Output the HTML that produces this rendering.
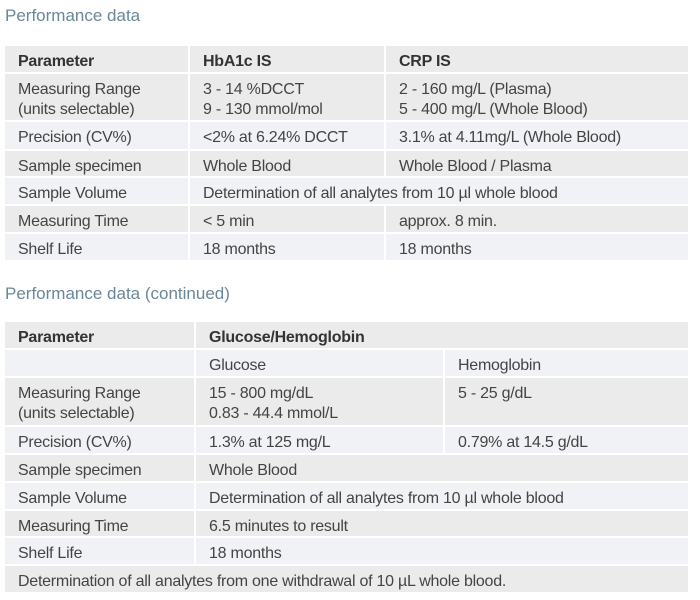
<!DOCTYPE html>
<html><head><meta charset="utf-8"><style>
body{margin:0;width:700px;height:600px;background:#fff;position:relative;overflow:hidden;font-family:"Liberation Sans",sans-serif;color:#444;font-size:16px;}
.t{position:absolute;left:5px;font-size:17px;color:#6a8798;}
.c{position:absolute;box-sizing:border-box;padding:6px 0 0 13px;line-height:20px;border-right:2px solid #fff;border-bottom:2px solid #fff;white-space:nowrap;letter-spacing:-0.25px}
.g{background:#ebebeb}.l{background:#f0f2f5}
b{font-weight:bold;color:#333}
</style></head><body>
<div class="t" style="top:6px">Performance data</div>
<div class="c g" style="left:5px;top:46px;width:185px;height:28px"><b>Parameter</b></div>
<div class="c g" style="left:190px;top:46px;width:196px;height:28px"><b>HbA1c IS</b></div>
<div class="c g" style="left:386px;top:46px;width:304px;height:28px"><b>CRP IS</b></div>

<div class="c g" style="left:5px;top:74px;width:185px;height:48px">Measuring Range<br>(units selectable)</div>
<div class="c g" style="left:190px;top:74px;width:196px;height:48px">3 - 14 %DCCT<br>9 - 130 mmol/mol</div>
<div class="c g" style="left:386px;top:74px;width:304px;height:48px">2 - 160 mg/L (Plasma)<br>5 - 400 mg/L (Whole Blood)</div>

<div class="c l" style="left:5px;top:122px;width:185px;height:29px">Precision (CV%)</div>
<div class="c l" style="left:190px;top:122px;width:196px;height:29px">&lt;2% at 6.24% DCCT</div>
<div class="c l" style="left:386px;top:122px;width:304px;height:29px">3.1% at 4.11mg/L (Whole Blood)</div>

<div class="c g" style="left:5px;top:151px;width:185px;height:27px">Sample specimen</div>
<div class="c g" style="left:190px;top:151px;width:196px;height:27px">Whole Blood</div>
<div class="c g" style="left:386px;top:151px;width:304px;height:27px">Whole Blood / Plasma</div>

<div class="c l" style="left:5px;top:178px;width:185px;height:28px">Sample Volume</div>
<div class="c l" style="left:190px;top:178px;width:500px;height:28px">Determination of all analytes from 10 µl whole blood</div>

<div class="c g" style="left:5px;top:206px;width:185px;height:28px">Measuring Time</div>
<div class="c g" style="left:190px;top:206px;width:196px;height:28px">&lt; 5 min</div>
<div class="c g" style="left:386px;top:206px;width:304px;height:28px">approx. 8 min.</div>

<div class="c l" style="left:5px;top:234px;width:185px;height:28px">Shelf Life</div>
<div class="c l" style="left:190px;top:234px;width:196px;height:28px">18 months</div>
<div class="c l" style="left:386px;top:234px;width:304px;height:28px">18 months</div>

<div class="t" style="top:284px">Performance data (continued)</div>
<div class="c g" style="left:5px;top:322px;width:191px;height:28px"><b>Parameter</b></div>
<div class="c g" style="left:196px;top:322px;width:494px;height:28px"><b>Glucose/Hemoglobin</b></div>

<div class="c l" style="left:5px;top:350px;width:191px;height:28px"></div>
<div class="c l" style="left:196px;top:350px;width:249px;height:28px">Glucose</div>
<div class="c l" style="left:445px;top:350px;width:245px;height:28px">Hemoglobin</div>

<div class="c g" style="left:5px;top:378px;width:191px;height:49px">Measuring Range<br>(units selectable)</div>
<div class="c g" style="left:196px;top:378px;width:249px;height:49px">15 - 800 mg/dL<br>0.83 - 44.4 mmol/L</div>
<div class="c g" style="left:445px;top:378px;width:245px;height:49px">5 - 25 g/dL</div>

<div class="c l" style="left:5px;top:427px;width:191px;height:28px">Precision (CV%)</div>
<div class="c l" style="left:196px;top:427px;width:249px;height:28px">1.3% at 125 mg/L</div>
<div class="c l" style="left:445px;top:427px;width:245px;height:28px">0.79% at 14.5 g/dL</div>

<div class="c g" style="left:5px;top:455px;width:191px;height:28px">Sample specimen</div>
<div class="c g" style="left:196px;top:455px;width:494px;height:28px">Whole Blood</div>

<div class="c l" style="left:5px;top:483px;width:191px;height:28px">Sample Volume</div>
<div class="c l" style="left:196px;top:483px;width:494px;height:28px">Determination of all analytes from 10 µl whole blood</div>

<div class="c g" style="left:5px;top:511px;width:191px;height:27px">Measuring Time</div>
<div class="c g" style="left:196px;top:511px;width:494px;height:27px">6.5 minutes to result</div>

<div class="c l" style="left:5px;top:538px;width:191px;height:28px">Shelf Life</div>
<div class="c l" style="left:196px;top:538px;width:494px;height:28px">18 months</div>

<div class="c g" style="left:5px;top:566px;width:685px;height:28px">Determination of all analytes from one withdrawal of 10 µL whole blood.</div>
</body></html>
